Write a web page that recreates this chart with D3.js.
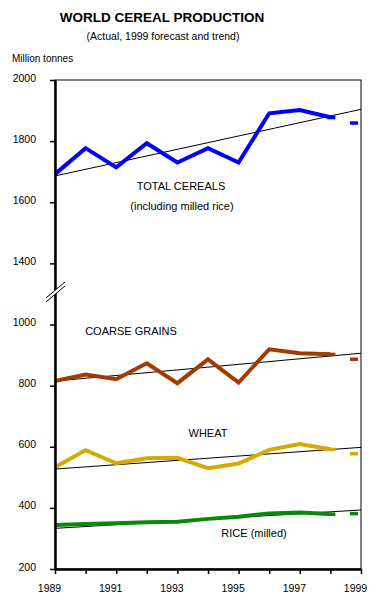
<!DOCTYPE html>
<html>
<head>
<meta charset="utf-8">
<script src="https://cdn.jsdelivr.net/npm/d3@7"></script>
<style>
  body { margin: 0; background: #fff; }
  svg { font-family: Arial, "Liberation Sans", sans-serif; }
  .axis path, .axis line { stroke: #000; }
  .axis text { font-size: 10.5px; fill: #000; }
</style>
</head>
<body>
<div class="chart"></div>
<script>
const YEARS = [1989, 1990, 1991, 1992, 1993, 1994, 1995, 1996, 1997, 1998];
const FORECAST_YEAR = 1999;
const Y_TICKS = [200, 400, 600, 800, 1000, 1400, 1600, 1800, 2000];

const TOTAL_CEREALS = [1692, 1777, 1714, 1793, 1730, 1777, 1730, 1891, 1902, 1878];
const COARSE_GRAINS = [815, 836, 821, 873, 808, 886, 810, 919, 906, 903];
const WHEAT = [533, 589, 546, 562, 564, 530, 545, 590, 609, 592];
const RICE = [344, 347, 350, 353, 355, 364, 371, 382, 385, 380];

// 1999 forecasts
const FORECASTS = [1860, 887, 578, 382];
// trend line values at 1989 and 1999
const TREND_START = [1686, 815, 527, 333];
const TREND_END = [1904, 906, 598, 393];

const SERIES_NAMES = ["TOTAL CEREALS", "COARSE GRAINS", "WHEAT", "RICE (milled)"];
const COLORS = ["#0000ff", "#a33b00", "#d6aa00", "#088a08"];

const W = 387, H = 614;
const M = { left: 55, right: 361, top: 80, bottom: 569 };

const svg = d3.select(".chart").append("svg").attr("width", W).attr("height", H);

// Scales
const x = d3.scaleLinear().domain([1989, 1999]).range([M.left, M.right]);
const step = (M.bottom - M.top) / (Y_TICKS.length - 1);
// broken axis: 1000 -> 1400 takes one tick step
const y = d3.scaleLinear()
  .domain([200, 1000, 1400, 2000])
  .range([M.bottom, M.bottom - 4 * step, M.bottom - 5 * step, M.top]);

// Titles
svg.append("text").attr("x", 162).attr("y", 22).attr("text-anchor", "middle")
  .attr("font-size", 13.5).attr("font-weight", "bold").text("WORLD CEREAL PRODUCTION");
svg.append("text").attr("x", 163).attr("y", 40).attr("text-anchor", "middle")
  .attr("font-size", 10.5).text("(Actual, 1999 forecast and trend)");
svg.append("text").attr("x", 12).attr("y", 62)
  .attr("font-size", 10).text("Million tonnes");

// Frame (top & right thin)
svg.append("rect")
  .attr("x", M.left).attr("y", M.top)
  .attr("width", M.right - M.left).attr("height", M.bottom - M.top)
  .attr("fill", "none").attr("stroke", "#000").attr("stroke-width", 1);

// Trend lines
const trendG = svg.append("g").attr("class", "trends");
TREND_START.forEach((s, i) => {
  trendG.append("line")
    .attr("x1", x(1989)).attr("y1", y(s))
    .attr("x2", x(1999)).attr("y2", y(TREND_END[i]))
    .attr("stroke", "#000").attr("stroke-width", 1);
});

// Series lines
const ALL = [TOTAL_CEREALS, COARSE_GRAINS, WHEAT, RICE];
const line = d3.line().x(d => x(d.year)).y(d => y(d.value));
ALL.forEach((vals, i) => {
  const data = YEARS.map((yr, j) => ({ year: yr, value: vals[j] }));
  svg.append("path").datum(data)
    .attr("d", line)
    .attr("fill", "none")
    .attr("stroke", COLORS[i])
    .attr("stroke-width", 4)
    .attr("stroke-linejoin", "miter");
  // dash marker at last actual year
  const last = data[data.length - 1];
  svg.append("rect")
    .attr("x", x(last.year) - 3).attr("y", y(last.value) - 1.5)
    .attr("width", 8).attr("height", 3.5).attr("fill", COLORS[i]);
  // forecast dash marker
  svg.append("rect")
    .attr("x", x(FORECAST_YEAR) - 11).attr("y", y(FORECASTS[i]) - 1.5)
    .attr("width", 8).attr("height", 3.5).attr("fill", COLORS[i]);
});

// Series labels
const labels = [
  { text: "TOTAL CEREALS", x: 181, y: 190 },
  { text: "(including milled rice)", x: 182, y: 210 },
  { text: "COARSE GRAINS", x: 131, y: 335 },
  { text: "WHEAT", x: 208, y: 437 },
  { text: "RICE (milled)", x: 254, y: 537 }
];
svg.append("g").selectAll("text").data(labels).enter().append("text")
  .attr("x", d => d.x).attr("y", d => d.y)
  .attr("text-anchor", "middle").attr("font-size", 11)
  .text(d => d.text);

// Y axis
const yAxis = svg.append("g")
  .attr("class", "axis")
  .attr("transform", `translate(${M.left}, 0)`)
  .call(d3.axisLeft(y).tickValues(Y_TICKS).tickSize(5).tickSizeOuter(0).tickPadding(14).tickFormat(d3.format("d")));
yAxis.select(".domain").attr("stroke-width", 2.5);
yAxis.selectAll(".tick line").attr("stroke-width", 1.5);
yAxis.selectAll(".tick text").attr("dy", "0.1em");

// X axis
const xAxis = svg.append("g")
  .attr("class", "axis")
  .attr("transform", `translate(0, ${M.bottom})`)
  .call(d3.axisBottom(x).tickValues(d3.range(1989, 2000)).tickSize(5).tickSizeOuter(0)
    .tickFormat(d => d % 2 ? d : ""));
xAxis.select(".domain").attr("stroke-width", 2.5);
xAxis.selectAll(".tick line").attr("stroke-width", 1.5);
xAxis.selectAll(".tick text").attr("x", -6).attr("y", 23).attr("dy", 0);

// Axis break
const by = (y(1000) + y(1400)) / 2 - 3;
const brk = svg.append("g");
brk.append("polygon")
  .attr("points", `${M.left - 9},${by + 7} ${M.left + 10},${by - 9} ${M.left + 10},${by - 5} ${M.left - 9},${by + 11}`)
  .attr("fill", "#fff");
brk.append("line").attr("x1", M.left - 9).attr("y1", by + 7).attr("x2", M.left + 10).attr("y2", by - 9)
  .attr("stroke", "#000").attr("stroke-width", 1);
brk.append("line").attr("x1", M.left - 9).attr("y1", by + 11).attr("x2", M.left + 10).attr("y2", by - 5)
  .attr("stroke", "#000").attr("stroke-width", 1);
</script>
</body>
</html>
